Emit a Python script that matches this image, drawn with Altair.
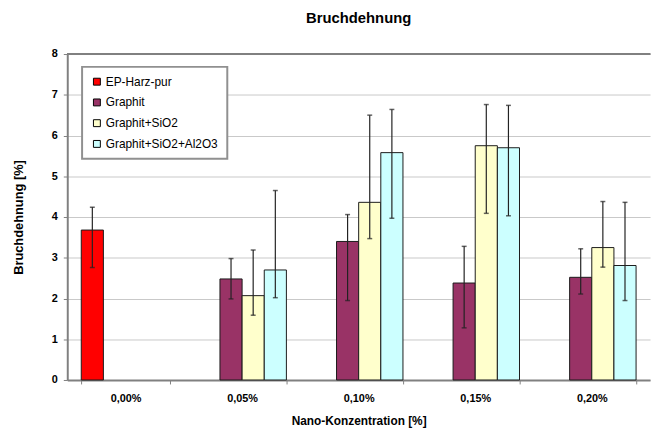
import altair as alt
import pandas as pd

categories = ["0,00%", "0,05%", "0,10%", "0,15%", "0,20%"]
series = ["EP-Harz-pur", "Graphit", "Graphit+SiO2", "Graphit+SiO2+Al2O3"]
colors = ["#FF0000", "#993366", "#FFFFCC", "#CCFFFF"]

# EP-Harz-pur only at 0,00%
ep_cats = ["0,00%"]
ep_value = [3.68]
ep_low = [2.76]
ep_high = [4.24]

filled_cats = ["0,05%", "0,10%", "0,15%", "0,20%"]
graphit_value = [2.48, 3.40, 2.38, 2.52]
graphit_low = [1.99, 1.95, 1.28, 2.11]
graphit_high = [2.98, 4.06, 3.28, 3.22]

sio2_value = [2.07, 4.36, 5.75, 3.25]
sio2_low = [1.59, 3.47, 4.09, 2.77]
sio2_high = [3.19, 6.50, 6.76, 4.38]

al2o3_value = [2.70, 5.58, 5.70, 2.81]
al2o3_low = [2.02, 3.97, 4.03, 1.95]
al2o3_high = [4.65, 6.64, 6.74, 4.36]

rows = []
def add(name, cats, vals, lows, highs):
    for c, v, lo, hi in zip(cats, vals, lows, highs):
        rows.append({"Konz": c, "Serie": name, "Wert": v, "Low": lo, "High": hi})

add(series[0], ep_cats, ep_value, ep_low, ep_high)
add(series[1], filled_cats, graphit_value, graphit_low, graphit_high)
add(series[2], filled_cats, sio2_value, sio2_low, sio2_high)
add(series[3], filled_cats, al2o3_value, al2o3_low, al2o3_high)
df = pd.DataFrame(rows)

FONT = "Liberation Sans"

x_enc = alt.X(
    "Konz:N",
    sort=categories,
    scale=alt.Scale(domain=categories, paddingInner=0.24, paddingOuter=0.12),
    axis=alt.Axis(
        title="Nano-Konzentration [%]",
        labelAngle=0,
        tickBand="extent",
        tickSize=4,
        tickColor="#808080",
        domainColor="#808080",
        domainWidth=2,
        labelFont=FONT,
        labelFontSize=11,
        labelFontWeight="bold",
        labelPadding=9,
        titleFont=FONT,
        titleFontSize=12,
        titleFontWeight="bold",
        titleBaseline="middle",
        titleY=41,
        grid=False,
    ),
)
xoff = alt.XOffset("Serie:N", scale=alt.Scale(domain=series, padding=0), sort=series)

y_scale = alt.Scale(domain=[0, 8], nice=False)

bars = alt.Chart(df).mark_bar(stroke="#1a1a1a", strokeWidth=1).encode(
    x=x_enc,
    xOffset=xoff,
    y=alt.Y(
        "Wert:Q",
        scale=y_scale,
        axis=alt.Axis(
            title="Bruchdehnung [%]",
            values=[0, 1, 2, 3, 4, 5, 6, 7, 8],
            tickSize=4,
            tickColor="#808080",
            domainColor="#808080",
            domainWidth=2,
            gridColor="#c8c8c8",
            gridWidth=1,
            labelFont=FONT,
            labelFontSize=11,
            labelFontWeight="bold",
            labelPadding=6,
            titleFont=FONT,
            titleFontSize=13,
            titleFontWeight="bold",
            titleBaseline="middle",
            titleX=-49,
            titleY=165,
        ),
    ),
    color=alt.Color(
        "Serie:N",
        scale=alt.Scale(domain=series, range=colors),
        sort=series,
        legend=alt.Legend(
            title=None,
            orient="none",
            legendX=15,
            legendY=13,
            symbolType="square",
            symbolSize=49,
            symbolStrokeColor="black",
            symbolStrokeWidth=1,
            labelFont=FONT,
            labelFontSize=12,
            labelOffset=3,
            rowPadding=9,
            padding=9,
            strokeColor="#909090",
            fillColor="white",
        ),
    ),
)

err = alt.Chart(df).mark_rule(color="#222222", strokeWidth=1.2).encode(
    x=alt.X("Konz:N", sort=categories),
    xOffset=xoff,
    y=alt.Y("Low:Q", scale=y_scale),
    y2="High:Q",
)

cap_low = alt.Chart(df).mark_tick(color="#222222", size=5, thickness=1.5).encode(
    x=alt.X("Konz:N", sort=categories),
    xOffset=xoff,
    y=alt.Y("Low:Q", scale=y_scale),
)
cap_high = alt.Chart(df).mark_tick(color="#222222", size=5, thickness=1.5).encode(
    x=alt.X("Konz:N", sort=categories),
    xOffset=xoff,
    y=alt.Y("High:Q", scale=y_scale),
)

top_border = alt.Chart(df).mark_rule(color="#808080", strokeWidth=2).encode(
    y=alt.datum(8, scale=y_scale)
)

chart = (
    alt.layer(bars, err, cap_low, cap_high, top_border)
    .properties(
        width=590,
        height=330,
        title=alt.TitleParams(
            "Bruchdehnung", font=FONT, fontSize=15, fontWeight="bold", offset=22, anchor="middle"
        ),
        autosize=alt.AutoSizeParams(type="none"),
        padding={"left": 60, "top": 44, "right": 5, "bottom": 46},
    )
    .configure_view(stroke=None)
    .configure_legend(strokeWidth=2)
)

chart.save("out.html", embed_options={"renderer": "svg", "actions": False})
